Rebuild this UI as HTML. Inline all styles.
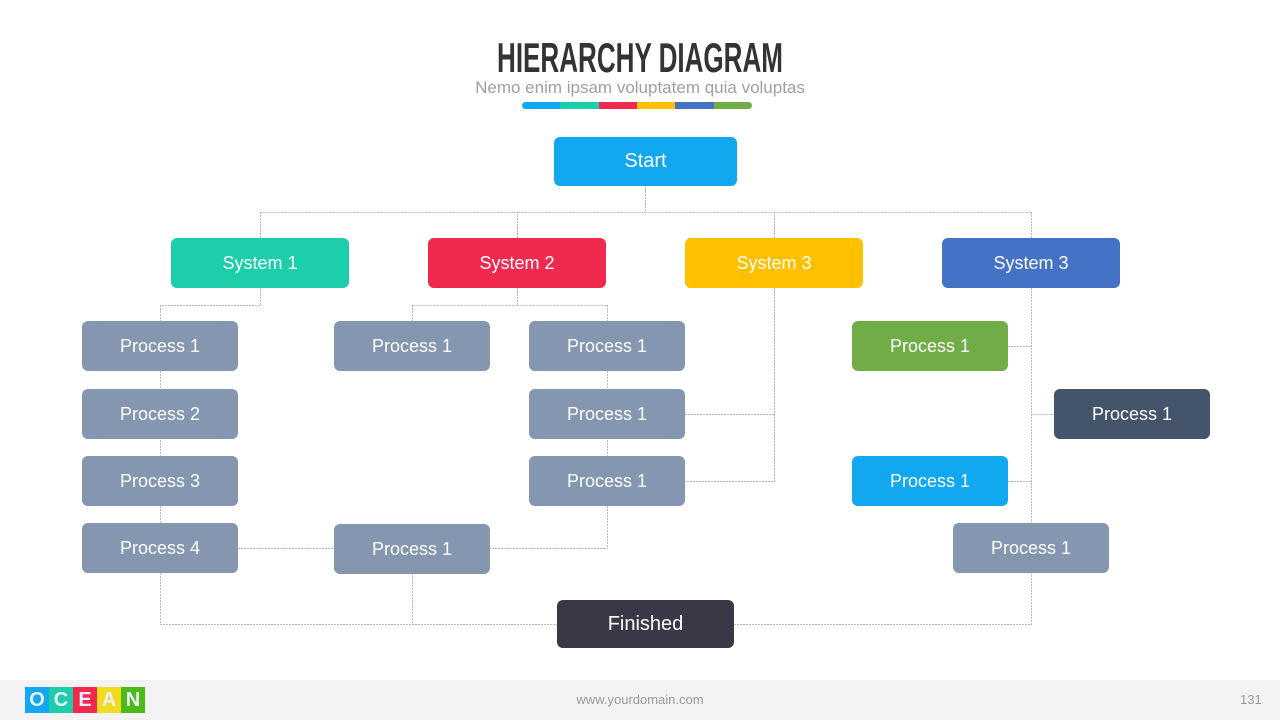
<!DOCTYPE html>
<html><head><style>
body{margin:0;width:1280px;height:720px;position:relative;background:#fff;font-family:"Liberation Sans",sans-serif;overflow:hidden}
.b{position:absolute;border-radius:6px;color:#fff;font-size:18px;display:flex;align-items:center;justify-content:center}
.p{background:#8496b0;width:156px;height:50px}
.s{width:178px;height:50px}
</style></head><body>
<div style="position:absolute;left:0;top:36px;width:1280px;text-align:center;font-family:'Liberation Sans Narrow','Liberation Sans',sans-serif;font-weight:bold;font-size:42px;line-height:44px;color:#333;transform:scaleX(0.62)">HIERARCHY DIAGRAM</div>
<div style="position:absolute;left:0;top:78px;width:1280px;text-align:center;font-size:17px;color:#a0a0a0">Nemo enim ipsam voluptatem quia voluptas</div>
<div style="position:absolute;left:522px;top:102px;width:230px;height:7px;border-radius:4px;overflow:hidden;display:flex">
<div style="flex:1;background:#11a8ef"></div><div style="flex:1;background:#1ccfaa"></div><div style="flex:1;background:#f0294f"></div><div style="flex:1;background:#ffc000"></div><div style="flex:1;background:#4472c4"></div><div style="flex:1;background:#70ad47"></div></div>
<svg width="1280" height="720" style="position:absolute;left:0;top:0" fill="none" stroke="#b8b8b8" stroke-width="1" stroke-dasharray="2 1">
<path d="M645.5 185V212.5M260.5 212.5H1031.5M260.5 212V238M517.5 212V238M774.5 212V238M1031.5 212V238"/>
<path d="M260.5 288V305.5H160.5V321M160.5 371V523M160.5 573V624.5H557M412.5 573V624.5M734 624.5H1031.5V573M238 548.5H334"/>
<path d="M517.5 288V305.5M412.5 305.5H607.5M412.5 305V321M607.5 305V321M607.5 371V548.5H490"/>
<path d="M774.5 288V481.5H685M685 414.5H774.5"/>
<path d="M1031.5 288V523M1008 346.5H1031.5M1031.5 414.5H1054M1008 481.5H1031.5"/>
</svg>
<div class="b" style="left:554px;top:137px;width:183px;height:49px;background:#11a8ef;font-size:20px">Start</div>
<div class="b s" style="left:171px;top:238px;background:#1ccfaa">System 1</div>
<div class="b s" style="left:428px;top:238px;background:#f0294f">System 2</div>
<div class="b s" style="left:685px;top:238px;background:#ffc000">System 3</div>
<div class="b s" style="left:942px;top:238px;background:#4472c4">System 3</div>
<div class="b p" style="left:82px;top:321px">Process 1</div>
<div class="b p" style="left:82px;top:389px">Process 2</div>
<div class="b p" style="left:82px;top:456px">Process 3</div>
<div class="b p" style="left:82px;top:523px">Process 4</div>
<div class="b p" style="left:334px;top:321px">Process 1</div>
<div class="b p" style="left:334px;top:524px">Process 1</div>
<div class="b p" style="left:529px;top:321px">Process 1</div>
<div class="b p" style="left:529px;top:389px">Process 1</div>
<div class="b p" style="left:529px;top:456px">Process 1</div>
<div class="b p" style="left:852px;top:321px;background:#70ad47">Process 1</div>
<div class="b p" style="left:1054px;top:389px;background:#44546a">Process 1</div>
<div class="b p" style="left:852px;top:456px;background:#11a8ef">Process 1</div>
<div class="b p" style="left:953px;top:523px">Process 1</div>
<div class="b" style="left:557px;top:600px;width:177px;height:48px;background:#383847;font-size:20px">Finished</div>
<div style="position:absolute;left:0;top:680px;width:1280px;height:40px;background:#f3f3f3"></div>
<div style="position:absolute;left:25px;top:687px;display:flex;font-weight:bold;font-size:20px;color:#eef">
<div style="width:24px;height:26px;background:#11a8ef;text-align:center;line-height:26px">O</div><div style="width:24px;height:26px;background:#1ccfaa;text-align:center;line-height:26px">C</div><div style="width:24px;height:26px;background:#f0294f;text-align:center;line-height:26px">E</div><div style="width:24px;height:26px;background:#f0dc1c;text-align:center;line-height:26px">A</div><div style="width:24px;height:26px;background:#4cbb17;text-align:center;line-height:26px">N</div></div>
<div style="position:absolute;left:0;top:692px;width:1280px;text-align:center;font-size:13px;color:#999">www.yourdomain.com</div>
<div style="position:absolute;left:1240px;top:692px;font-size:13px;color:#999">131</div>
</body></html>
